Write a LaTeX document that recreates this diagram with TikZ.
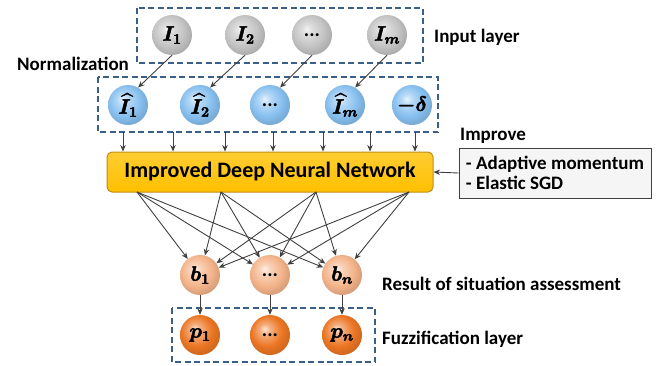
\documentclass[tikz,border=0pt]{standalone}
\usepackage{amsmath}
\usepackage{fontspec}
\setmainfont{Carlito}
\usetikzlibrary{arrows.meta}
\definecolor{boxblue}{RGB}{58,96,138}
\definecolor{linkgray}{RGB}{64,64,64}
\definecolor{ballgray}{RGB}{196,196,196}
\definecolor{ballblue}{RGB}{135,192,240}
\definecolor{balllight}{RGB}{244,180,138}
\definecolor{balldark}{RGB}{236,118,36}
\definecolor{dnnfill}{RGB}{255,192,0}
\definecolor{dnnedge}{RGB}{190,140,20}
% soft glossy sphere: light spot at upper left, slightly darker rim
\newcommand\declareballshade[2]{%
  \pgfdeclareradialshading{#1}{\pgfpoint{-7bp}{8bp}}{%
    color(0bp)=(#2!20!white); color(7bp)=(#2!60!white);
    color(19bp)=(#2); color(31bp)=(#2!84!black); color(50bp)=(#2!84!black)}}
\declareballshade{shgray}{ballgray}
\declareballshade{shblue}{ballblue}
\declareballshade{shlight}{balllight}
\declareballshade{shdark}{balldark}
% heavier strokes for the symbols inside the spheres
\newcommand\heavy[1]{\special{pdf:literal direct 2 Tr 0.45 w}#1\special{pdf:literal direct 0 Tr}}
\begin{document}
\begin{tikzpicture}[x=1pt,y=-1pt,
  ball/.style={circle, minimum size=40pt, inner sep=0pt,
    font=\fontsize{22}{22}\selectfont},
  grayball/.style={ball, shading=shgray},
  blueball/.style={ball, shading=shblue},
  lightball/.style={ball, shading=shlight},
  darkball/.style={ball, shading=shdark},
  layerbox/.style={draw=boxblue, line width=1.6pt, dash pattern=on 6pt off 3.5pt},
  link/.style={draw=linkgray, line width=0.9pt, -{Stealth[length=6.5pt,width=5.5pt]}},
  lbl/.style={font=\fontsize{19}{22}\selectfont\bfseries, anchor=west, inner sep=0pt}
]
\useasboundingbox (0,0) rectangle (656,365);
\newcommand\dotsym{\textbf{\fontsize{20}{20}\selectfont ...}}

% layer frames
\draw[layerbox] (137,8) rectangle (423,63);
\draw[layerbox] (98,77) rectangle (438,132);
\draw[layerbox] (172,308) rectangle (375,362);

% input layer
\node[grayball] (g1) at (172,35) {\heavy{$\boldsymbol{I_1}$}};
\node[grayball] (g2) at (245,35) {\heavy{$\boldsymbol{I_2}$}};
\node[grayball] (g3) at (312,35) {\dotsym};
\node[grayball] (g4) at (387,35) {\heavy{$\boldsymbol{I_m}$}};

% normalized inputs
\node[blueball] (n1) at (128,105) {\heavy{$\boldsymbol{\widehat{I}_1}$}};
\node[blueball] (n2) at (200,105) {\heavy{$\boldsymbol{\widehat{I}_2}$}};
\node[blueball] (n3) at (270,105) {\dotsym};
\node[blueball] (n4) at (345,105) {\heavy{$\boldsymbol{\widehat{I}_m}$}};
\node[blueball] (n5) at (412,105) {\heavy{$\boldsymbol{-\delta}$}};

\foreach \i in {1,...,4}
  \draw[link] (g\i.south) -- (n\i.60);

% network block
\node[draw=dnnedge, line width=1pt, rounded corners=5pt,
  top color=dnnfill!80!white, bottom color=dnnfill,
  minimum width=326pt, minimum height=40pt, inner sep=0pt,
  font=\fontsize{22}{24}\selectfont\bfseries] (dnn) at (270,172)
  {Improved Deep Neural Network};

\foreach \x [count=\k] in {123,173,225,273,323,370,415} {
  \coordinate (t\k) at (\x,132);
  \draw[link] (t\k) -- (t\k |- dnn.north);
}

% improvement box
\node[draw=linkgray, fill=gray!8, line width=0.8pt, minimum width=192pt,
  minimum height=50pt, inner sep=0pt, align=left,
  font=\fontsize{19}{20}\selectfont\bfseries] (imp) at (555,173)
  {- Adaptive momentum\\- Elastic SGD};
\draw[link] (imp.west) -- (dnn.east);

% situation assessment outputs
\node[lightball] (b1) at (200,275) {\heavy{$\boldsymbol{b_1}$}};
\node[lightball] (b2) at (270,275) {\dotsym};
\node[lightball] (b3) at (342,275) {\heavy{$\boldsymbol{b_n}$}};

\foreach \x [count=\k] in {137,221,316,409} {
  \coordinate (o\k) at (\x,192);
  \foreach \j in {1,2,3}
    \draw[link] (o\k) -- (b\j);
}

% fuzzification layer
\node[darkball] (p1) at (200,335) {\heavy{$\boldsymbol{p_1}$}};
\node[darkball] (p2) at (270,335) {\dotsym};
\node[darkball] (p3) at (342,335) {\heavy{$\boldsymbol{p_n}$}};

\foreach \j in {1,2,3}
  \draw[link] (b\j) -- (p\j);

% labels
\node[lbl] (linput) at (434,37) {Input layer};
\node[lbl] (lnorm) at (17,64) {Normalization};
\node[lbl] (limp) at (460,136) {Improve};
\node[lbl] (lres) at (382,284) {Result of situation assessment};
\node[lbl] (lfuz) at (382,339) {Fuzzification layer};
\end{tikzpicture}
\end{document}
